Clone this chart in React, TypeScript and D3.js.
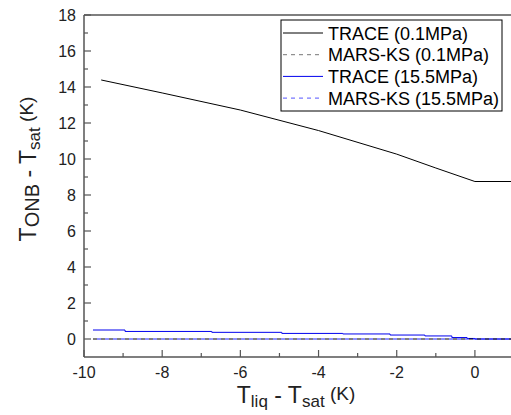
import React from "react";
import * as d3 from "d3";

const traceLowX = [-9.56, -8, -6, -4, -2, -1, 0, 1];
const traceLowY = [14.39, 13.67, 12.72, 11.58, 10.27, 9.5, 8.75, 8.75];
const traceHighX = [-9.77, -8.95, -6.73, -4.94, -3.38, -2.17, -1.28, -0.59, -0.2, 0, 1];
const traceHighY = [0.5, 0.42, 0.37, 0.31, 0.28, 0.22, 0.17, 0.08, 0.03, 0, 0];
const marsX = [-9.77, 1];
const marsLowY = [0, 0];
const marsHighY = [0, 0];
const xTicks = [-10, -8, -6, -4, -2, 0];
const yTicks = [0, 2, 4, 6, 8, 10, 12, 14, 16, 18];
const legendLabels = ["TRACE (0.1MPa)", "MARS-KS (0.1MPa)", "TRACE (15.5MPa)", "MARS-KS (15.5MPa)"];

const W = 511, H = 415;
const L = 84, R = 514, T = 15, B = 357;

export default function App() {
  const x = d3.scaleLinear().domain([-10, 1]).range([L, R]);
  const y = d3.scaleLinear().domain([-1, 18]).range([B, T]);
  const line = d3.line<[number, number]>().x(d => x(d[0])).y(d => y(d[1]));
  const step = d3.line<[number, number]>().x(d => x(d[0])).y(d => y(d[1])).curve(d3.curveStepAfter);
  const zip = (a: number[], b: number[]) => a.map((v, i) => [v, b[i]] as [number, number]);
  const minorX = d3.range(-9, 1, 2);
  const minorY = d3.range(1, 18, 2);
  const axisColor = "#555";
  const font = "'Liberation Sans', Arial, sans-serif";
  const legStyles = [
    { c: "#000", d: "none" },
    { c: "#777", d: "4,4" },
    { c: "#0000ee", d: "none" },
    { c: "#5555ff", d: "4,4" },
  ];
  return (
    <svg width={W} height={H} style={{ position: "absolute", left: 0, top: 0 }} fontFamily={font}>
      <rect width={W} height={H} fill="#fff" />
      {/* data */}
      <path d={line(zip(traceLowX, traceLowY)) || ""} fill="none" stroke="#000" strokeWidth={1} />
      <path d={step(zip(traceHighX, traceHighY)) || ""} fill="none" stroke="#0000ee" strokeWidth={1} />
      <path d={line(zip(marsX, marsLowY)) || ""} fill="none" stroke="#000" strokeWidth={1} strokeDasharray="4,4" />
      <path d={line(zip(marsX, marsHighY)) || ""} fill="none" stroke="#2222ff" strokeWidth={1} strokeDasharray="4,4" strokeDashoffset={4} />
      {/* axes frame */}
      <line x1={L} x2={L} y1={T} y2={B} stroke={axisColor} strokeWidth={1.5} />
      <line x1={L} x2={R} y1={B} y2={B} stroke={axisColor} strokeWidth={1.5} />
      <line x1={L} x2={R} y1={T} y2={T} stroke={axisColor} strokeWidth={1.5} />
      {xTicks.map(t => (
        <g key={"xt" + t}>
          <line x1={x(t)} x2={x(t)} y1={B} y2={B - 7} stroke={axisColor} strokeWidth={1.2} />
          <text x={x(t)} y={B + 21} textAnchor="middle" fontSize={16} fill="#222">{t}</text>
        </g>
      ))}
      {minorX.map(t => (
        <line key={"xm" + t} x1={x(t)} x2={x(t)} y1={B} y2={B - 4} stroke={axisColor} strokeWidth={1.2} />
      ))}
      {yTicks.map(t => (
        <g key={"yt" + t}>
          <line x1={L} x2={L + 7} y1={y(t)} y2={y(t)} stroke={axisColor} strokeWidth={1.2} />
          <text x={L - 8} y={y(t) + 6} textAnchor="end" fontSize={16} fill="#222">{t}</text>
        </g>
      ))}
      {minorY.map(t => (
        <line key={"ym" + t} x1={L} x2={L + 4} y1={y(t)} y2={y(t)} stroke={axisColor} strokeWidth={1.2} />
      ))}
      {/* legend */}
      <rect x={281} y={20} width={221} height={91} fill="#fff" stroke="#000" strokeWidth={1} />
      {legendLabels.map((lab, i) => {
        const cy = 33 + i * 21.7;
        return (
          <g key={lab}>
            <line x1={283} x2={323} y1={cy} y2={cy} stroke={legStyles[i].c} strokeWidth={1} strokeDasharray={legStyles[i].d} />
            <text x={328} y={cy + 6.5} fontSize={18} fill="#000">{lab}</text>
          </g>
        );
      })}
      {/* axis titles */}
      <text x={296} y={403} textAnchor="middle" fill="#222">
        <tspan fontSize={23}>T</tspan>
        <tspan fontSize={17} dy={4}>liq</tspan>
        <tspan fontSize={23} dy={-4}> - T</tspan>
        <tspan fontSize={17} dy={4}>sat</tspan>
        <tspan fontSize={19} dy={-7}> (K)</tspan>
      </text>
      <text transform="translate(36,169) rotate(-90)" textAnchor="middle" fill="#222">
        <tspan fontSize={23}>T</tspan>
        <tspan fontSize={20} dy={3}>ONB</tspan>
        <tspan fontSize={23} dy={-3}> - T</tspan>
        <tspan fontSize={17} dy={4}>sat</tspan>
        <tspan fontSize={19} dy={-7}> (K)</tspan>
      </text>
    </svg>
  );
}
